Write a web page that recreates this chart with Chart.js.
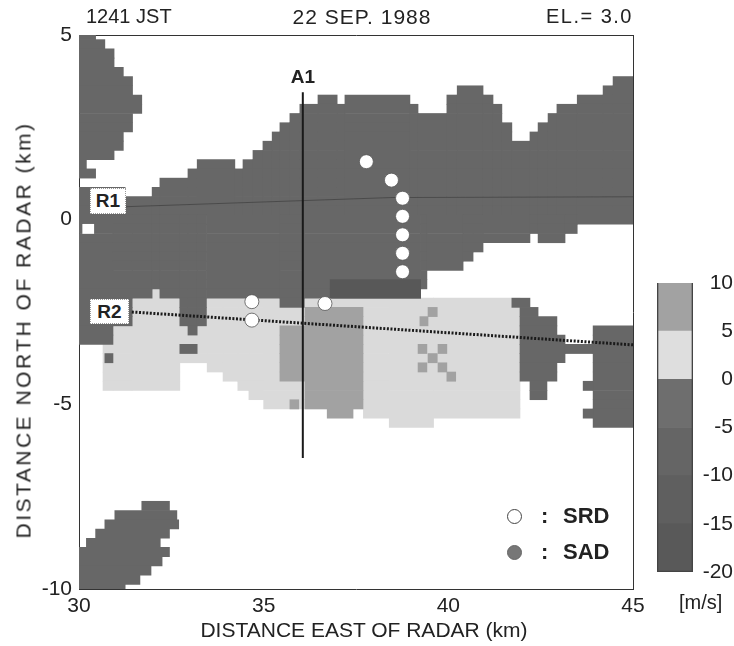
<!DOCTYPE html>
<html>
<head>
<meta charset="utf-8">
<script src="https://cdn.jsdelivr.net/npm/chart.js@4.4.0/dist/chart.umd.min.js"></script>
<style>
  body { margin: 0; background: #fff; width: 734px; height: 646px; position: relative; overflow: hidden;
         font-family: "Liberation Sans", Arial, Helvetica, sans-serif; color: #222; }
  canvas { position: absolute; }
  .txt { position: absolute; white-space: nowrap; line-height: 1; }
  .caixa { position: absolute; background: #fff; border: 1px dotted #999; font-weight: bold; font-size: 19px;
           display: flex; align-items: center; justify-content: center; }
  .bola { position: absolute; width: 13px; height: 13px; border-radius: 50%; }
</style>
</head>
<body>
<canvas id="mapa" width="734" height="646" style="left:0;top:0"></canvas>
<canvas id="escala" width="134" height="330" style="left:600px;top:260px"></canvas>

<div class="txt" style="left:86px;top:6px;font-size:20px">1241 JST</div>
<div class="txt" style="left:362px;top:6px;font-size:21px;letter-spacing:1px;transform:translateX(-50%)">22 SEP. 1988</div>
<div class="txt" style="right:101px;top:6px;font-size:20px;letter-spacing:1.5px">EL.= 3.0</div>

<div class="txt" style="left:303px;top:67px;font-size:19px;font-weight:bold;transform:translateX(-50%)">A1</div>
<div class="caixa" style="left:90px;top:188px;width:34px;height:24px">R1</div>
<div class="caixa" style="left:90px;top:299px;width:37px;height:23px">R2</div>

<div class="bola" style="left:507px;top:509px;background:#fff;border:1px solid #444"></div>
<div class="txt" style="left:541px;top:505px;font-size:22px;font-weight:bold">:</div>
<div class="txt" style="left:563px;top:505px;font-size:22px;font-weight:bold">SRD</div>
<div class="bola" style="left:507px;top:545px;background:#777;border:1px solid #666"></div>
<div class="txt" style="left:541px;top:541px;font-size:22px;font-weight:bold">:</div>
<div class="txt" style="left:563px;top:541px;font-size:22px;font-weight:bold">SAD</div>

<div class="txt" style="left:364px;top:619px;font-size:21px;transform:translateX(-50%)">DISTANCE EAST OF RADAR (km)</div>
<div class="txt" style="left:23px;top:330px;font-size:21px;letter-spacing:2.5px;transform:translate(-50%,-50%) rotate(-90deg)">DISTANCE NORTH OF RADAR (km)</div>
<div class="txt" style="left:679px;top:592px;font-size:20px">[m/s]</div>

<script>
// field cells: [top row, bottom row, x start, x end] in km, rows every 0.25 km
var darkCells = [
  // top-left blob
  [5.0, 5.0, 30, 30.45], [4.75, 4.75, 30, 30.7], [4.5, 4.25, 30, 30.95], [4.0, 4.0, 30, 31.2],
  [3.75, 3.5, 30, 31.45], [3.25, 3.0, 30, 31.7], [2.75, 2.5, 30, 31.45], [2.25, 2.0, 30, 31.2],
  [1.75, 1.75, 30, 30.95], [1.5, 1.5, 30, 30.2], [1.25, 1.25, 30, 30.45],
  // main band, upper part
  [0.75, 0.25, 30, 31.25], [0.5, 0.25, 31.25, 31.98], [0.75, 0.25, 31.98, 32.19], [1.0, 0.25, 32.19, 32.95],
  [1.25, 0.25, 32.95, 33.2], [1.5, 0.25, 33.2, 34.22], [1.25, 0.25, 34.22, 34.44], [1.5, 0.25, 34.44, 34.71],
  [1.75, 0.25, 34.71, 34.98], [2.0, 0.25, 34.98, 35.23], [2.25, 0.25, 35.23, 35.44], [2.5, 0.25, 35.44, 35.71],
  [2.75, 0.25, 35.71, 35.98], [3.0, 0.25, 35.98, 36.47], [3.25, 0.25, 36.47, 36.99], [3.0, 0.25, 36.99, 37.2],
  [3.25, 0.25, 37.2, 38.96], [3.0, 0.25, 38.96, 39.18], [2.75, 0.25, 39.18, 39.96], [3.25, 0.25, 39.96, 40.24],
  [3.5, 0.25, 40.24, 40.94], [3.25, 0.25, 40.94, 41.21], [3.0, 0.25, 41.21, 41.45], [2.5, 0.25, 41.45, 41.72],
  [2.0, 0.25, 41.72, 42.21], [2.25, 0.25, 42.21, 42.43], [2.5, 0.25, 42.43, 42.7], [2.75, 0.25, 42.7, 42.94],
  [3.0, 0.25, 42.94, 43.49], [3.25, 0.25, 43.49, 44.19], [3.5, 0.25, 44.19, 44.46], [3.75, 0.25, 44.46, 45],
  // main band, lower part
  [0, -3.25, 30, 30.92], [0, -2.75, 30.92, 31.44], [0, -2.0, 31.44, 31.98], [0, -1.75, 31.98, 32.19],
  [0, -2.0, 32.19, 32.73], [0, -2.75, 32.73, 32.95], [0, -3.0, 32.95, 33.2], [0, -2.75, 33.2, 33.45],
  [0, -2.0, 33.45, 35.44], [0, -2.25, 35.44, 36.1], [0, -2.0, 36.1, 39.25], [0, -1.75, 39.25, 39.42],
  [0, -1.25, 39.42, 40.4], [0, -1.0, 40.4, 40.67], [0, -0.75, 40.67, 40.94], [0, -0.5, 40.94, 42.21],
  [0, -0.25, 42.21, 42.43], [0, -0.5, 42.43, 43.16], [0, -0.25, 43.16, 43.49], [0, 0, 43.49, 45],
  // small patches
  [-3.5, -3.5, 32.73, 33.2], [-3.75, -3.75, 30.7, 30.92],
  // diamond and right blob
  [-2.25, -2.25, 41.72, 42.21], [-2.5, -2.5, 41.94, 42.43], [-2.75, -3.0, 41.94, 42.94],
  [-3.25, -3.75, 41.94, 43.16], [-3.5, -3.5, 43.16, 43.92], [-4.0, -4.25, 41.94, 42.94],
  [-4.5, -4.75, 42.21, 42.67], [-3.0, -5.5, 43.92, 45], [-4.5, -4.5, 43.65, 43.92], [-5.25, -5.25, 43.65, 43.92],
  // bottom-left blob
  [-7.75, -7.75, 31.7, 32.45], [-8.0, -8.0, 30.97, 32.65], [-8.25, -8.25, 30.7, 32.7], [-8.5, -8.5, 30.45, 32.45],
  [-8.75, -8.75, 30.2, 32.2], [-9.0, -9.0, 30, 32.45], [-9.25, -9.25, 30, 32.25], [-9.5, -9.5, 30, 31.95],
  [-9.75, -9.75, 30, 31.65], [-10, -10, 30, 31.25]
];
var darkerCells = [[-1.75, -2.0, 36.8, 39.25]];
var holeCells = [[-0.25, -0.25, 30.1, 30.4]];
var lightCells = [
  [-2.0, -2.0, 31.98, 32.19], [-3.5, -4.5, 30.65, 30.92], [-3.0, -4.5, 30.92, 31.44], [-2.25, -4.5, 31.44, 32.73],
  [-2.25, -3.75, 32.73, 33.47], [-2.25, -4.0, 33.47, 33.9], [-2.25, -4.25, 33.9, 34.3], [-2.25, -4.5, 34.3, 34.6],
  [-2.25, -4.75, 34.6, 35.0], [-2.25, -5.0, 35.0, 37.7], [-2.25, -5.25, 37.7, 38.4], [-2.25, -5.5, 38.4, 39.6],
  [-2.25, -5.25, 39.6, 41.94]
];
var midCells = [
  [-2.5, -2.75, 36.12, 37.69], [-3.0, -4.25, 35.44, 37.69], [-4.5, -5.0, 36.12, 37.69], [-5.25, -5.25, 36.72, 37.42],
  [-5.0, -5.0, 35.71, 35.95], [-2.5, -2.5, 39.45, 39.7], [-2.75, -2.75, 39.23, 39.45], [-3.5, -3.5, 39.18, 39.42],
  [-3.5, -3.5, 39.72, 39.96], [-3.75, -3.75, 39.45, 39.7], [-4.0, -4.0, 39.18, 39.42], [-4.0, -4.0, 39.72, 39.96],
  [-4.25, -4.25, 39.96, 40.2]
];

var srdX = [37.78, 38.46, 38.76, 38.76, 38.76, 38.76, 38.76, 34.68, 34.68, 36.66];
var srdY = [1.57, 1.07, 0.58, 0.09, -0.41, -0.91, -1.41, -2.22, -2.72, -2.27];

var lineA1 = [{ x: 36.06, y: 3.45 }, { x: 36.06, y: -6.45 }];
var lineR1 = [{ x: 31.25, y: 0.35 }, { x: 38.5, y: 0.6 }, { x: 45, y: 0.62 }];
var lineR2 = [{ x: 31.43, y: -2.5 }, { x: 45, y: -3.39 }];

var xTicks = [30, 35, 40, 45];
var yTicks = [-10, -5, 0, 5];

var scaleLimits = [-20, -15, -10, -5, 0, 5, 10];
var scaleColors = ["#595959", "#5f5f5f", "#656565", "#6e6e6e", "#dedede", "#a2a2a2"];

var fonte = "'Liberation Sans', Arial, Helvetica, sans-serif";
Chart.defaults.font.family = fonte;
Chart.defaults.color = "#222";

function montarLinhas(celulas) {
  var linhas = [];
  for (var i = 0; i < celulas.length; i++) {
    var c = celulas[i];
    for (var y = c[0]; y >= c[1] - 0.001; y -= 0.25) {
      linhas.push({ y: Math.round(y * 4) / 4, x: [c[2], c[3]] });
    }
  }
  return linhas;
}

function camada(celulas, cor, ordem) {
  return {
    type: "bar",
    indexAxis: "y",
    data: montarLinhas(celulas),
    backgroundColor: cor,
    borderWidth: 0,
    grouped: false,
    barPercentage: 1,
    categoryPercentage: 1,
    clip: 0,
    order: ordem,
  };
}

var pontos = [];
for (var i = 0; i < srdX.length; i++) {
  pontos.push({ x: srdX[i], y: srdY[i] });
}

function eixo(pos, min, max, ticksList, tamanho) {
  return {
    type: "linear",
    position: pos,
    min: min,
    max: max,
    offset: false,
    z: 2,
    grid: { display: false, drawTicks: false },
    border: { display: true, color: "#333", width: 1 },
    afterBuildTicks: function (s) {
      s.ticks = ticksList.map(function (v) { return { value: v }; });
    },
    afterFit: function (s) {
      if (s.isHorizontal()) s.height = tamanho; else s.width = tamanho;
    },
    ticks: {
      display: ticksList.length > 0,
      font: { size: 21 },
      padding: pos === "left" ? 7 : 5,
      maxRotation: 0,
      autoSkip: false,
    },
  };
}

new Chart(mapa, {
  type: "bar",
  data: {
    datasets: [
      camada(lightCells, "#dadada", 10),
      camada(midCells, "#a2a2a2", 9),
      camada(darkCells, "#676767", 8),
      camada(darkerCells, "#585858", 7),
      camada(holeCells, "#ffffff", 6),
      { type: "line", indexAxis: "x", data: lineR1, borderColor: "rgba(40,40,40,0.45)", borderWidth: 1, pointRadius: 0, order: 5 },
      { type: "line", indexAxis: "x", data: lineR2, borderColor: "#1a1a1a", borderWidth: 3, borderDash: [2, 1.6], pointRadius: 0, order: 4 },
      { type: "line", indexAxis: "x", data: lineA1, borderColor: "#1a1a1a", borderWidth: 2, pointRadius: 0, order: 3 },
      { type: "scatter", indexAxis: "x", data: pontos, pointRadius: 7, backgroundColor: "#ffffff",
        borderColor: "#555", borderWidth: 0.8, order: 1 },
    ],
  },
  options: {
    responsive: false,
    animation: false,
    events: [],
    indexAxis: "y",
    layout: { padding: { left: 0, top: 35, right: 101, bottom: 0 } },
    plugins: { legend: { display: false }, tooltip: { enabled: false } },
    scales: {
      x: eixo("bottom", 30, 45, xTicks, 57),
      y: eixo("left", -10, 5, yTicks, 79),
      x2: eixo("top", 30, 45, [], 0),
      y2: eixo("right", -10, 5, [], 0),
    },
  },
});

var segmentos = [];
for (var i = 0; i < scaleColors.length; i++) {
  segmentos.push({
    data: [[scaleLimits[i], scaleLimits[i + 1]]],
    backgroundColor: scaleColors[i],
    borderWidth: 0,
    grouped: false,
    barPercentage: 1,
    categoryPercentage: 1,
    order: 2,
  });
}
segmentos.push({
  data: [[scaleLimits[0], scaleLimits[scaleLimits.length - 1]]],
  backgroundColor: "rgba(0,0,0,0)",
  borderColor: "#444",
  borderWidth: 1,
  grouped: false,
  barPercentage: 1,
  categoryPercentage: 1,
  order: 1,
});

new Chart(escala, {
  type: "bar",
  data: { labels: [""], datasets: segmentos },
  options: {
    responsive: false,
    animation: false,
    events: [],
    layout: { padding: { left: 57, top: 23, right: 1, bottom: 18 } },
    plugins: { legend: { display: false }, tooltip: { enabled: false } },
    scales: {
      x: { display: false },
      y: {
        position: "right",
        min: -20,
        max: 10,
        grid: { display: false, drawTicks: false },
        border: { display: false },
        afterFit: function (s) { s.width = 40; },
        ticks: { stepSize: 5, crossAlign: "far", font: { size: 21 } },
      },
    },
  },
});
</script>
</body>
</html>
